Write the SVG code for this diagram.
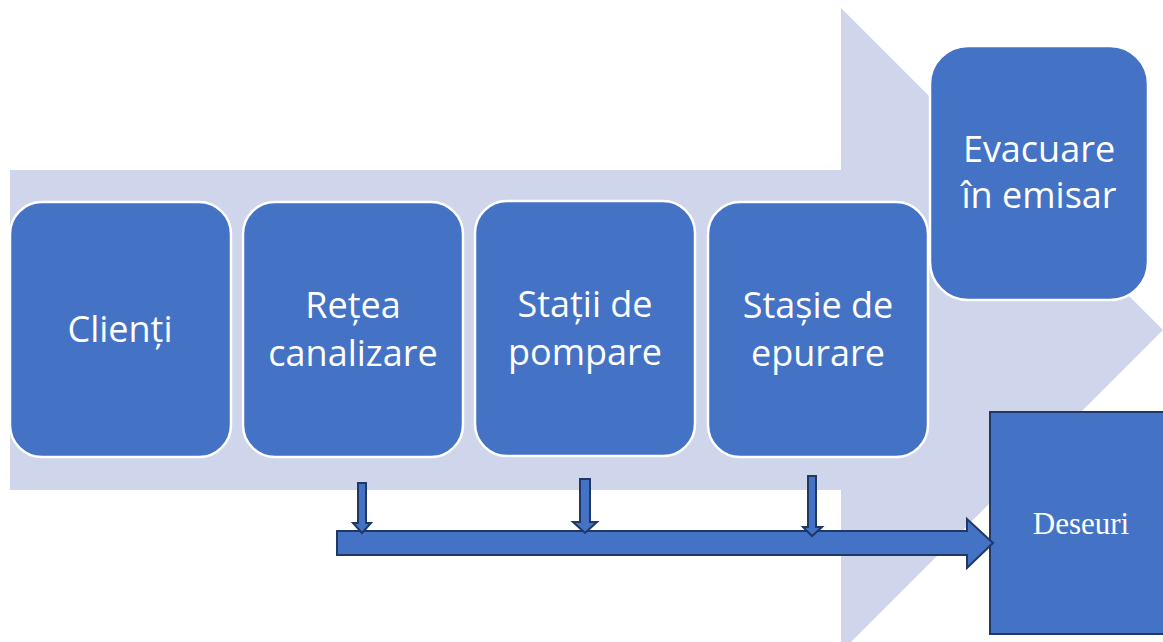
<svg xmlns="http://www.w3.org/2000/svg" width="1163" height="642" viewBox="0 0 1163 642">
<style>
.bg{fill:#CFD5EA;}
.box{fill:#4472C4;stroke:#FFFFFF;stroke-width:2.5;}
.lbl{fill:#FFFFFF;font-family:"Open Sans","Noto Sans",sans-serif;font-size:36px;text-anchor:middle;}
.blk{fill:#4472C4;stroke:#1F3864;stroke-width:2;}
.ser{fill:#FFFFFF;font-family:"Liberation Serif",serif;font-size:31px;text-anchor:middle;}
</style>
<rect width="1163" height="642" fill="#FFFFFF"/>
<g id="flow-arrow">
<polygon class="bg" points="10,170 841,170 841,8 1163,330 841,652 841,490 10,490"/>
</g>
<g id="clienti">
<rect class="box" x="10" y="202" width="221" height="255" rx="32"/>
<text class="lbl" x="120" y="342">Clienți</text>
</g>
<g id="retea">
<rect class="box" x="243" y="202" width="220" height="255" rx="32"/>
<text class="lbl" x="353" y="318">Rețea</text>
<text class="lbl" x="353" y="366">canalizare</text>
</g>
<g id="statii">
<rect class="box" x="475" y="201" width="220" height="255" rx="32"/>
<text class="lbl" x="585" y="317">Stații de</text>
<text class="lbl" x="585" y="365">pompare</text>
</g>
<g id="statie">
<rect class="box" x="708" y="202" width="220" height="255" rx="32"/>
<text class="lbl" x="818" y="318">Stașie de</text>
<text class="lbl" x="818" y="366">epurare</text>
</g>
<g id="evacuare">
<rect class="box" x="930" y="46" width="218" height="254" rx="38"/>
<text class="lbl" x="1039" y="162">Evacuare</text>
<text class="lbl" x="1039" y="208">în emisar</text>
</g>
<g id="deseuri">
<rect class="blk" x="990" y="412" width="180" height="222"/>
<text class="ser" x="1081" y="534">Deseuri</text>
</g>
<g id="connectors">
<polygon class="blk" points="337,531 967,531 967,519 993,543 967,568 967,555 337,555"/>
<polygon class="blk" points="358,483 366,483 366,523 371,523 362,533 353,523 358,523"/>
<polygon class="blk" points="580,479 590,479 590,522 597,522 585,533 573,522 580,522"/>
<polygon class="blk" points="808,476 816,476 816,527 822,527 812,536 803,527 808,527"/>
</g>
</svg>
